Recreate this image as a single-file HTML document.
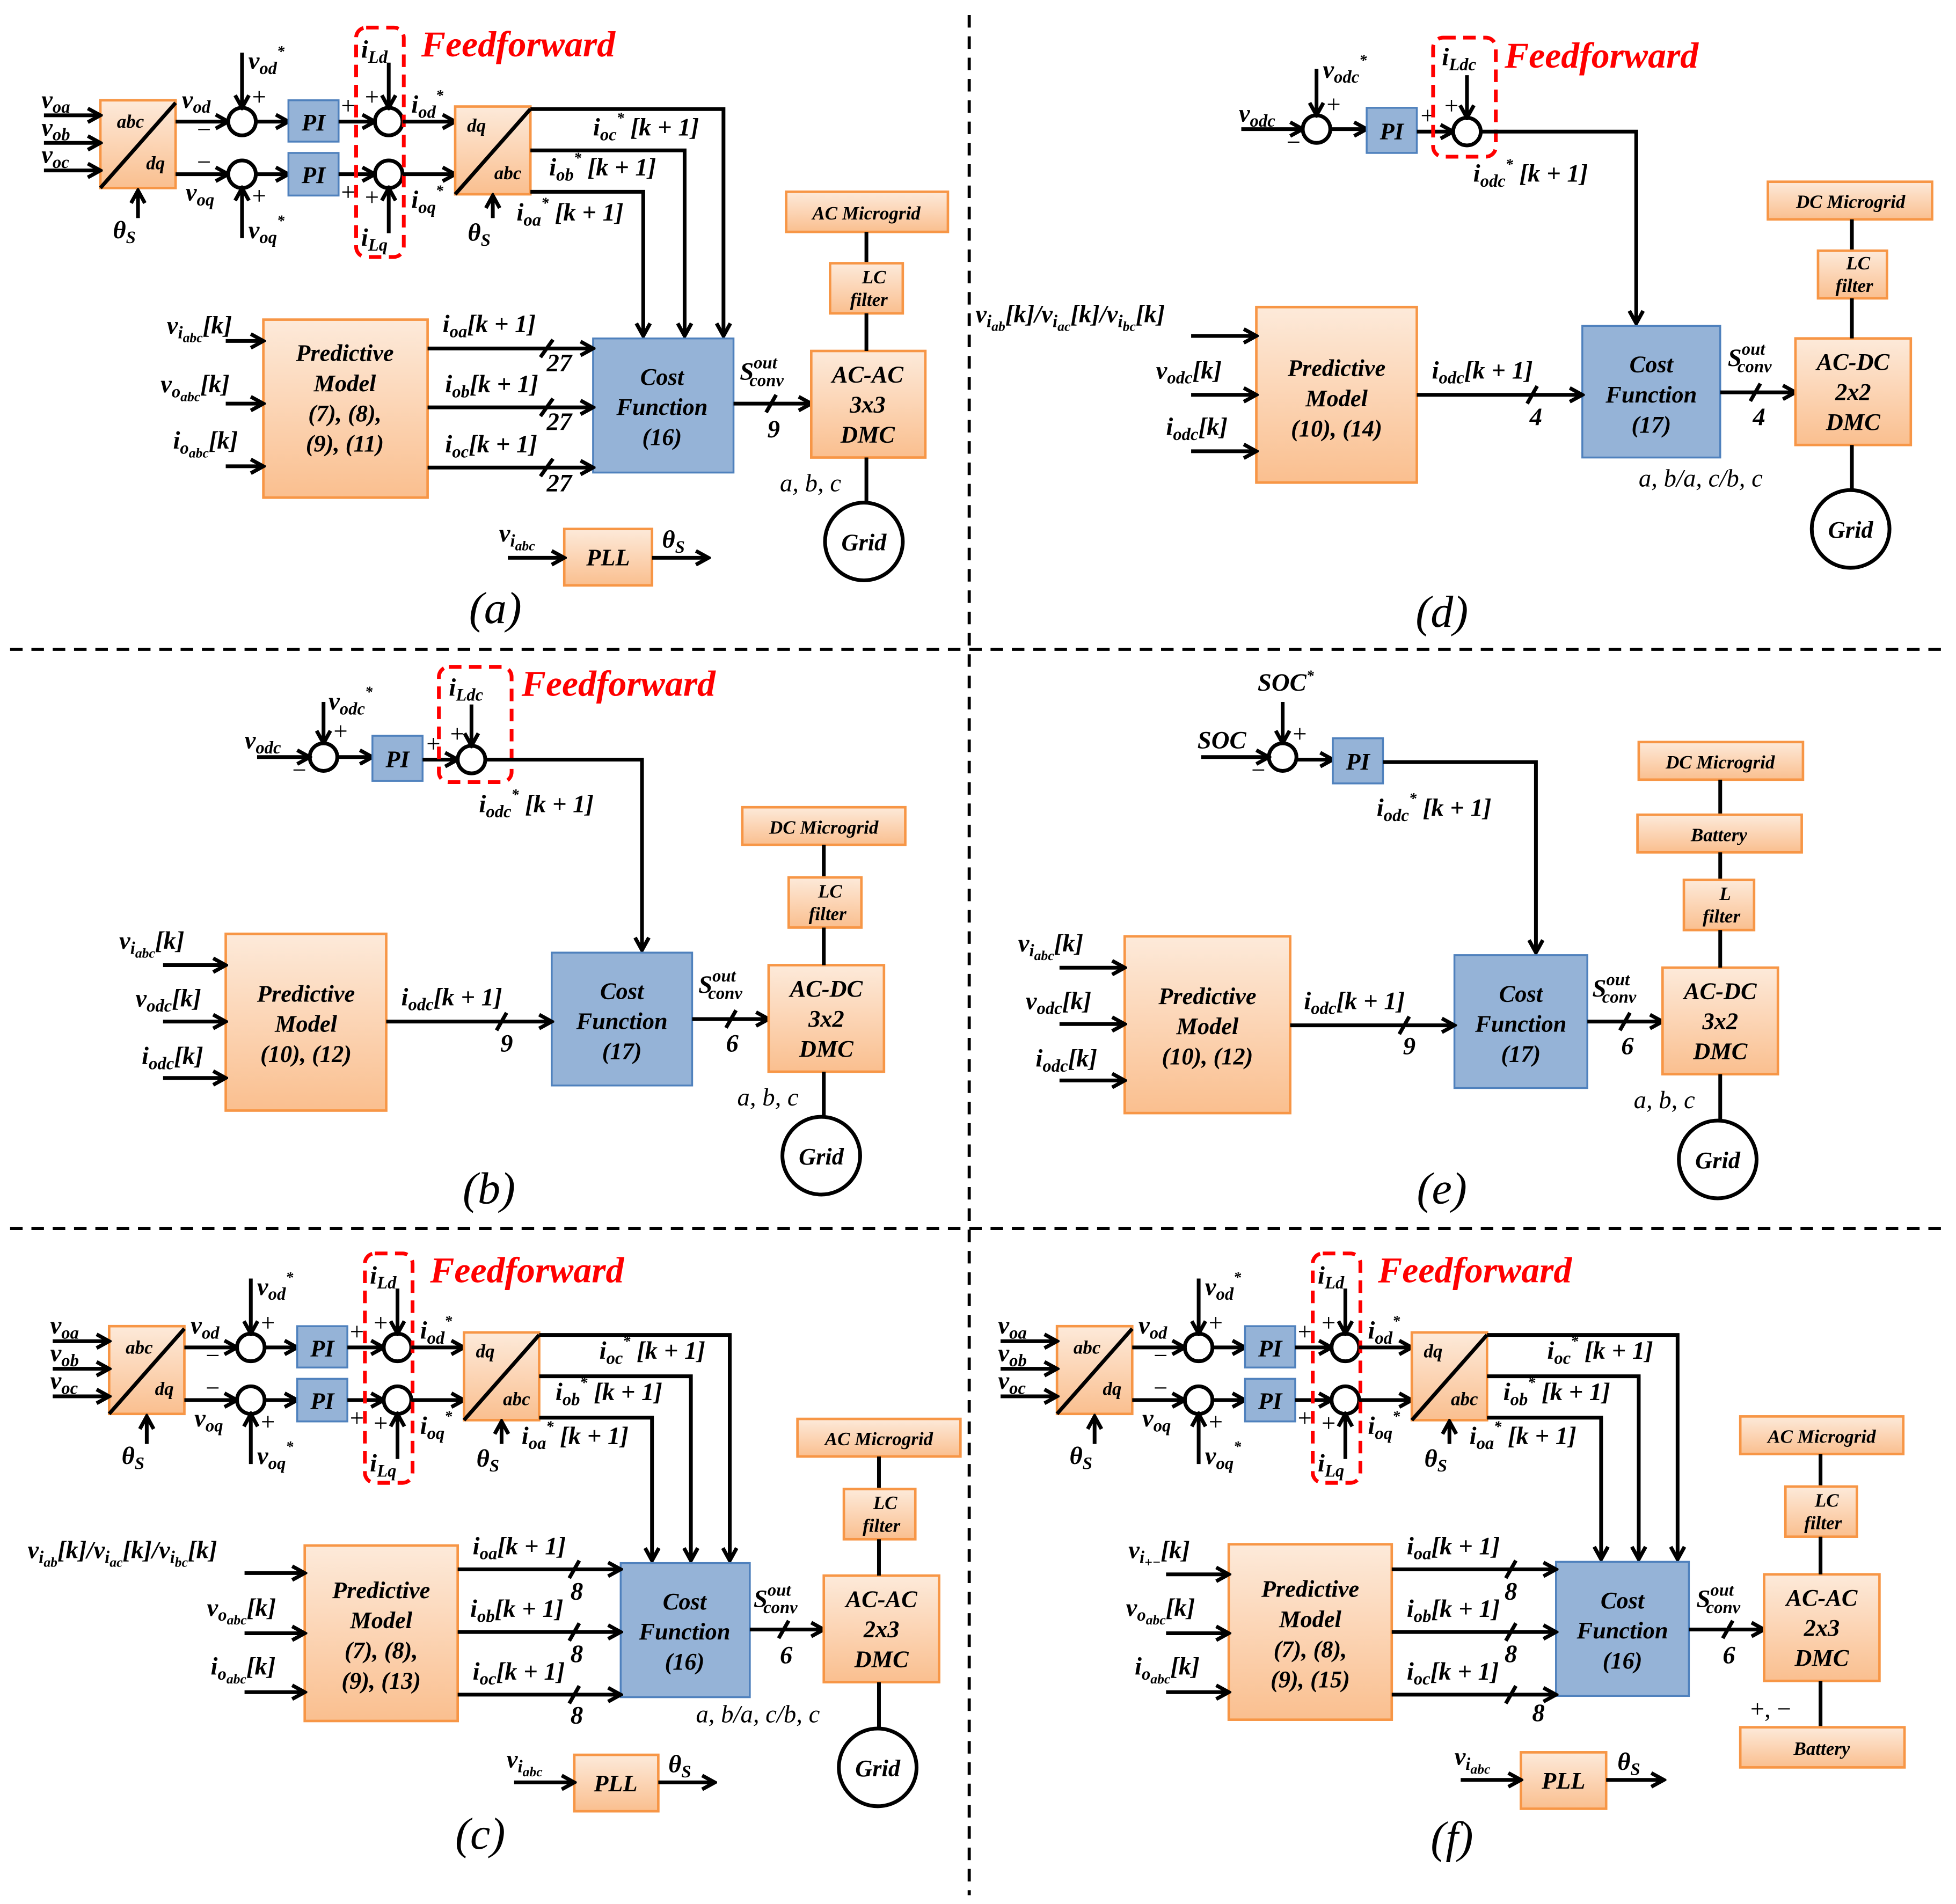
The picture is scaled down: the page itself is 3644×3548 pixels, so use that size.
<!DOCTYPE html>
<html><head><meta charset="utf-8"><style>
html,body{margin:0;padding:0;background:#fff;}
svg{display:block;}
.m{font-family:"Liberation Serif",serif;font-style:italic;font-weight:bold;font-size:20px;fill:#000;}
.bx{font-family:"Liberation Serif",serif;font-style:italic;font-weight:bold;font-size:19px;fill:#000;text-anchor:middle;}
.sm{font-family:"Liberation Serif",serif;font-style:italic;font-weight:bold;font-size:15px;fill:#000;text-anchor:middle;}
.pl{font-family:"Liberation Serif",serif;font-size:20px;fill:#000;}
.cap{font-family:"Liberation Serif",serif;font-style:italic;font-size:36px;fill:#000;text-anchor:middle;}
.ff{font-family:"Liberation Serif",serif;font-style:italic;font-weight:bold;font-size:29px;fill:#f00;}
.ln{stroke:#000;stroke-width:3;fill:none;}
.ar{stroke:#000;stroke-width:3;fill:none;marker-end:url(#ah);}
.o{fill:url(#og);stroke:#f79646;stroke-width:2;}
.b{fill:#95b3d7;stroke:#4f81bd;stroke-width:1.5;}
.c{fill:#fff;stroke:#000;stroke-width:3;}
.d{stroke:#000;stroke-width:2.5;stroke-dasharray:10,7;fill:none;}
.r{stroke:#f00;stroke-width:3;stroke-dasharray:10,6;fill:none;}
</style></head><body>
<svg width="3644" height="3548" viewBox="0 0 1560 1519" xmlns="http://www.w3.org/2000/svg">
<defs>
<linearGradient id="og" x1="0" y1="0" x2="0" y2="1"><stop offset="0" stop-color="#fdeada"/><stop offset="1" stop-color="#fabf8f"/></linearGradient>
<marker id="ah" markerUnits="userSpaceOnUse" markerWidth="14" markerHeight="14" viewBox="0 0 14 14" refX="12" refY="7" orient="auto"><path d="M2,1.5 L12,7 L2,12.5" fill="none" stroke="#000" stroke-width="3"/></marker>
</defs>

<!-- dividers -->
<line class="d" x1="773" y1="12" x2="773" y2="1512"/>
<line class="d" x1="8" y1="518" x2="1552" y2="518"/>
<line class="d" x1="8" y1="980" x2="1552" y2="980"/>

<!-- ===== PANEL A TOP ===== -->
<g id="topA">
<rect class="o" x="80" y="80" width="60" height="70"/>
<line class="ln" x1="80" y1="150" x2="140" y2="82"/>
<text class="sm" x="104" y="102">abc</text><text class="sm" x="124" y="135">dq</text>
<line class="ar" x1="35" y1="92" x2="80" y2="92"/><line class="ar" x1="35" y1="114" x2="80" y2="114"/><line class="ar" x1="35" y1="136" x2="80" y2="136"/>
<text class="m" x="33" y="86">v<tspan font-size="14" dy="4">oa</tspan></text>
<text class="m" x="33" y="108">v<tspan font-size="14" dy="4">ob</tspan></text>
<text class="m" x="33" y="130">v<tspan font-size="14" dy="4">oc</tspan></text>
<line class="ar" x1="110" y1="174" x2="110" y2="152"/>
<text class="m" x="90" y="190">θ<tspan font-size="14" dy="4">S</tspan></text>
<line class="ar" x1="140" y1="97" x2="182" y2="97"/><circle class="c" cx="193" cy="97" r="11"/>
<text class="m" x="145" y="86">v<tspan font-size="14" dy="4">od</tspan></text><text class="pl" x="157" y="110">−</text>
<line class="ar" x1="140" y1="139" x2="182" y2="139"/><circle class="c" cx="193" cy="139" r="11"/>
<text class="m" x="148" y="160">v<tspan font-size="14" dy="4">oq</tspan></text><text class="pl" x="157" y="136">−</text>
<line class="ar" x1="193" y1="42" x2="193" y2="86"/>
<text class="m" x="198" y="55">v<tspan font-size="14" dy="4">od</tspan><tspan font-size="12" dy="-14">*</tspan></text><text class="pl" x="201" y="84">+</text>
<line class="ar" x1="193" y1="190" x2="193" y2="150"/>
<text class="m" x="198" y="190">v<tspan font-size="14" dy="4">oq</tspan><tspan font-size="12" dy="-14">*</tspan></text><text class="pl" x="201" y="163">+</text>
<line class="ar" x1="204" y1="97" x2="230" y2="97"/><rect class="b" x="230" y="80" width="40" height="33"/><text class="bx" x="250" y="104">PI</text>
<line class="ar" x1="204" y1="139" x2="230" y2="139"/><rect class="b" x="230" y="122" width="40" height="34"/><text class="bx" x="250" y="146">PI</text>
<line class="ar" x1="270" y1="97" x2="299" y2="97"/><circle class="c" cx="310" cy="97" r="11"/><text class="pl" x="272" y="91">+</text>
<line class="ar" x1="270" y1="139" x2="299" y2="139"/><circle class="c" cx="310" cy="139" r="11"/><text class="pl" x="272" y="160">+</text>
<line class="ar" x1="310" y1="50" x2="310" y2="86"/>
<text class="m" x="288" y="46">i<tspan font-size="14" dy="4">Ld</tspan></text><text class="pl" x="291" y="84">+</text>
<line class="ar" x1="310" y1="186" x2="310" y2="150"/>
<text class="m" x="288" y="196">i<tspan font-size="14" dy="4">Lq</tspan></text><text class="pl" x="291" y="164">+</text>
<rect class="r" x="284" y="22" width="38" height="183" rx="8"/>
<text class="ff" x="336" y="45">Feedforward</text>
<line class="ar" x1="321" y1="97" x2="363" y2="97"/><line class="ar" x1="321" y1="139" x2="363" y2="139"/>
<text class="m" x="328" y="90">i<tspan font-size="14" dy="4">od</tspan><tspan font-size="12" dy="-14">*</tspan></text>
<text class="m" x="328" y="166">i<tspan font-size="14" dy="4">oq</tspan><tspan font-size="12" dy="-14">*</tspan></text>
<rect class="o" x="363" y="85" width="60" height="70"/>
<line class="ln" x1="363" y1="155" x2="423" y2="87"/>
<text class="sm" x="380" y="105">dq</text><text class="sm" x="405" y="143">abc</text>
<line class="ar" x1="393" y1="174" x2="393" y2="156"/>
<text class="m" x="373" y="192">θ<tspan font-size="14" dy="4">S</tspan></text>
<polyline class="ar" points="423,87 577,87 577,268"/>
<polyline class="ar" points="423,120 546,120 546,268"/>
<polyline class="ar" points="423,153 513,153 513,268"/>
<text class="m" x="473" y="108">i<tspan font-size="14" dy="4">oc</tspan><tspan font-size="12" dy="-14">*</tspan><tspan dy="10"> [k + 1]</tspan></text>
<text class="m" x="438" y="140">i<tspan font-size="14" dy="4">ob</tspan><tspan font-size="12" dy="-14">*</tspan><tspan dy="10"> [k + 1]</tspan></text>
<text class="m" x="412" y="176">i<tspan font-size="14" dy="4">oa</tspan><tspan font-size="12" dy="-14">*</tspan><tspan dy="10"> [k + 1]</tspan></text>
</g>

<!-- PANEL A bottom -->
<rect class="b" x="473" y="270" width="112" height="107"/>
<text class="bx" x="528" y="307">Cost</text><text class="bx" x="528" y="331">Function</text><text class="bx" x="528" y="355" font-style="normal">(16)</text>
<rect class="o" x="210" y="255" width="131" height="142"/>
<text class="bx" x="275" y="288">Predictive</text><text class="bx" x="275" y="312">Model</text><text class="bx" x="275" y="336" font-style="normal">(7), (8),</text><text class="bx" x="275" y="360" font-style="normal">(9), (11)</text>
<line class="ar" x1="180" y1="272" x2="210" y2="272"/><line class="ar" x1="180" y1="322" x2="210" y2="322"/><line class="ar" x1="180" y1="372" x2="210" y2="372"/>
<text class="m" x="133" y="266">v<tspan font-size="14" dy="4">i<tspan font-size="11" dy="3">abc</tspan></tspan><tspan dy="-7">[k]</tspan></text>
<text class="m" x="128" y="313">v<tspan font-size="14" dy="4">o<tspan font-size="11" dy="3">abc</tspan></tspan><tspan dy="-7">[k]</tspan></text>
<text class="m" x="138" y="358">i<tspan font-size="14" dy="4">o<tspan font-size="11" dy="3">abc</tspan></tspan><tspan dy="-7">[k]</tspan></text>
<line class="ar" x1="341" y1="278" x2="473" y2="278"/><line class="ar" x1="341" y1="325" x2="473" y2="325"/><line class="ar" x1="341" y1="373" x2="473" y2="373"/>
<text class="m" x="353" y="265">i<tspan font-size="14" dy="4">oa</tspan><tspan dy="-4">[k + 1]</tspan></text>
<text class="m" x="355" y="313">i<tspan font-size="14" dy="4">ob</tspan><tspan dy="-4">[k + 1]</tspan></text>
<text class="m" x="355" y="361">i<tspan font-size="14" dy="4">oc</tspan><tspan dy="-4">[k + 1]</tspan></text>
<g class="ln" stroke-width="2"><line x1="431" y1="285" x2="441" y2="271"/><line x1="431" y1="332" x2="441" y2="318"/><line x1="431" y1="380" x2="441" y2="366"/></g>
<text class="m" x="436" y="296">27</text><text class="m" x="436" y="343">27</text><text class="m" x="436" y="392">27</text>
<line class="ar" x1="585" y1="322" x2="647" y2="322"/><line class="ln" stroke-width="2" x1="611" y1="329" x2="619" y2="315"/>
<text class="m" x="612" y="349">9</text>
<text class="m" x="590" y="303">S<tspan font-size="14" dy="-9">out</tspan><tspan font-size="14" dx="-22" dy="14">conv</tspan></text>
<rect class="o" x="647" y="280" width="91" height="85"/>
<text class="bx" x="692" y="305">AC-AC</text><text class="bx" x="692" y="329">3x3</text><text class="bx" x="692" y="353">DMC</text>
<rect class="o" x="627" y="153" width="129" height="32"/><text class="sm" x="691" y="175">AC Microgrid</text>
<line class="ln" x1="691" y1="185" x2="691" y2="210"/>
<rect class="o" x="662" y="210" width="58" height="40"/><text class="sm" x="697" y="226" font-size="13">LC</text><text class="sm" x="693" y="244" font-size="13">filter</text>
<line class="ln" x1="691" y1="250" x2="691" y2="280"/>
<line class="ln" x1="691" y1="365" x2="691" y2="402"/>
<circle class="c" cx="689" cy="432" r="31"/><text class="bx" x="689" y="439">Grid</text>
<text class="pl" x="622" y="392" font-style="italic">a, b, c</text>
<rect class="o" x="450" y="422" width="70" height="45"/><text class="bx" x="485" y="451">PLL</text>
<line class="ar" x1="405" y1="445" x2="450" y2="445"/>
<text class="m" x="398" y="432">v<tspan font-size="14" dy="4">i<tspan font-size="11" dy="3">abc</tspan></tspan></text>
<line class="ar" x1="520" y1="445" x2="565" y2="445"/>
<text class="m" x="528" y="437">θ<tspan font-size="14" dy="4">S</tspan></text>
<text class="cap" x="395" y="497">(a)</text>

<!-- ===== PANEL D ===== -->
<text class="m" x="988" y="97">v<tspan font-size="14" dy="4">odc</tspan></text>
<line class="ar" x1="990" y1="103" x2="1039" y2="103"/><circle class="c" cx="1050" cy="103" r="11"/><text class="pl" x="1026" y="120">−</text>
<line class="ar" x1="1050" y1="55" x2="1050" y2="92"/>
<text class="m" x="1055" y="62">v<tspan font-size="14" dy="4">odc</tspan><tspan font-size="12" dy="-14">*</tspan></text><text class="pl" x="1058" y="90">+</text>
<line class="ar" x1="1061" y1="103" x2="1090" y2="103"/><rect class="b" x="1090" y="86" width="40" height="36"/><text class="bx" x="1110" y="111">PI</text>
<line class="ar" x1="1130" y1="105" x2="1159" y2="105"/><circle class="c" cx="1170" cy="105" r="11"/><text class="pl" x="1133" y="99">+</text>
<line class="ar" x1="1170" y1="60" x2="1170" y2="94"/>
<text class="m" x="1150" y="52">i<tspan font-size="14" dy="4">Ldc</tspan></text><text class="pl" x="1152" y="91">+</text>
<rect class="r" x="1143" y="30" width="50" height="95" rx="8"/>
<text class="ff" x="1200" y="54">Feedforward</text>
<polyline class="ar" points="1181,105 1305,105 1305,258"/>
<text class="m" x="1175" y="145">i<tspan font-size="14" dy="4">odc</tspan><tspan font-size="12" dy="-14">*</tspan><tspan dy="10"> [k + 1]</tspan></text>
<rect class="b" x="1262" y="260" width="110" height="105"/>
<text class="bx" x="1317" y="297">Cost</text><text class="bx" x="1317" y="321">Function</text><text class="bx" x="1317" y="345" font-style="normal">(17)</text>
<rect class="o" x="1002" y="245" width="128" height="140"/>
<text class="bx" x="1066" y="300">Predictive</text><text class="bx" x="1066" y="324">Model</text><text class="bx" x="1066" y="348" font-style="normal">(10), (14)</text>
<text class="m" x="778" y="257">v<tspan font-size="14" dy="4">i<tspan font-size="11" dy="3">ab</tspan></tspan><tspan dy="-7">[k]/v</tspan><tspan font-size="14" dy="4">i<tspan font-size="11" dy="3">ac</tspan></tspan><tspan dy="-7">[k]/v</tspan><tspan font-size="14" dy="4">i<tspan font-size="11" dy="3">bc</tspan></tspan><tspan dy="-7">[k]</tspan></text>
<line class="ar" x1="950" y1="268" x2="1002" y2="268"/><line class="ar" x1="950" y1="315" x2="1002" y2="315"/><line class="ar" x1="950" y1="360" x2="1002" y2="360"/>
<text class="m" x="922" y="302">v<tspan font-size="14" dy="4">odc</tspan><tspan dy="-4">[k]</tspan></text>
<text class="m" x="930" y="347">i<tspan font-size="14" dy="4">odc</tspan><tspan dy="-4">[k]</tspan></text>
<line class="ar" x1="1130" y1="315" x2="1262" y2="315"/><line class="ln" stroke-width="2" x1="1218" y1="322" x2="1226" y2="308"/>
<text class="m" x="1220" y="339">4</text>
<text class="m" x="1142" y="302">i<tspan font-size="14" dy="4">odc</tspan><tspan dy="-4">[k + 1]</tspan></text>
<line class="ar" x1="1372" y1="313" x2="1432" y2="313"/><line class="ln" stroke-width="2" x1="1396" y1="320" x2="1404" y2="306"/>
<text class="m" x="1398" y="339">4</text>
<text class="m" x="1378" y="292">S<tspan font-size="14" dy="-9">out</tspan><tspan font-size="14" dx="-22" dy="14">conv</tspan></text>
<rect class="o" x="1432" y="270" width="92" height="85"/>
<text class="bx" x="1478" y="295">AC-DC</text><text class="bx" x="1478" y="319">2x2</text><text class="bx" x="1478" y="343">DMC</text>
<rect class="o" x="1410" y="145" width="131" height="30"/><text class="sm" x="1476" y="166">DC Microgrid</text>
<line class="ln" x1="1477" y1="175" x2="1477" y2="200"/>
<rect class="o" x="1450" y="200" width="55" height="38"/><text class="sm" x="1482" y="215" font-size="13">LC</text><text class="sm" x="1479" y="233" font-size="13">filter</text>
<line class="ln" x1="1477" y1="238" x2="1477" y2="270"/>
<line class="ln" x1="1477" y1="355" x2="1477" y2="393"/>
<circle class="c" cx="1476" cy="422" r="31"/><text class="bx" x="1476" y="429">Grid</text>
<text class="pl" x="1307" y="388" font-style="italic">a, b/a, c/b, c</text>
<text class="cap" x="1150" y="500">(d)</text>

<!-- ===== PANEL B ===== -->
<line class="ar" x1="258" y1="560" x2="258" y2="593"/>
<text class="m" x="262" y="566">v<tspan font-size="14" dy="4">odc</tspan><tspan font-size="12" dy="-14">*</tspan></text><text class="pl" x="266" y="590">+</text>
<circle class="c" cx="258" cy="604" r="11"/>
<text class="m" x="195" y="597">v<tspan font-size="14" dy="4">odc</tspan></text>
<line class="ar" x1="205" y1="604" x2="247" y2="604"/><text class="pl" x="233" y="621">−</text>
<line class="ar" x1="269" y1="604" x2="297" y2="604"/><rect class="b" x="297" y="587" width="40" height="36"/><text class="bx" x="317" y="612">PI</text>
<line class="ar" x1="337" y1="606" x2="365" y2="606"/><circle class="c" cx="376" cy="606" r="11"/><text class="pl" x="340" y="600">+</text>
<line class="ar" x1="376" y1="562" x2="376" y2="595"/>
<text class="m" x="358" y="555">i<tspan font-size="14" dy="4">Ldc</tspan></text><text class="pl" x="359" y="592">+</text>
<rect class="r" x="350" y="532" width="58" height="92" rx="8"/>
<text class="ff" x="416" y="555">Feedforward</text>
<polyline class="ar" points="387,606 512,606 512,758"/>
<text class="m" x="382" y="648">i<tspan font-size="14" dy="4">odc</tspan><tspan font-size="12" dy="-14">*</tspan><tspan dy="10"> [k + 1]</tspan></text>
<rect class="b" x="440" y="760" width="112" height="106"/>
<text class="bx" x="496" y="797">Cost</text><text class="bx" x="496" y="821">Function</text><text class="bx" x="496" y="845" font-style="normal">(17)</text>
<rect class="o" x="180" y="745" width="128" height="141"/>
<text class="bx" x="244" y="799">Predictive</text><text class="bx" x="244" y="823">Model</text><text class="bx" x="244" y="847" font-style="normal">(10), (12)</text>
<line class="ar" x1="130" y1="770" x2="180" y2="770"/><line class="ar" x1="130" y1="815" x2="180" y2="815"/><line class="ar" x1="130" y1="860" x2="180" y2="860"/>
<text class="m" x="95" y="757">v<tspan font-size="14" dy="4">i<tspan font-size="11" dy="3">abc</tspan></tspan><tspan dy="-7">[k]</tspan></text>
<text class="m" x="108" y="803">v<tspan font-size="14" dy="4">odc</tspan><tspan dy="-4">[k]</tspan></text>
<text class="m" x="113" y="849">i<tspan font-size="14" dy="4">odc</tspan><tspan dy="-4">[k]</tspan></text>
<line class="ar" x1="308" y1="815" x2="440" y2="815"/><line class="ln" stroke-width="2" x1="396" y1="822" x2="404" y2="808"/>
<text class="m" x="399" y="839">9</text>
<text class="m" x="320" y="802">i<tspan font-size="14" dy="4">odc</tspan><tspan dy="-4">[k + 1]</tspan></text>
<line class="ar" x1="552" y1="813" x2="613" y2="813"/><line class="ln" stroke-width="2" x1="579" y1="820" x2="587" y2="806"/>
<text class="m" x="579" y="839">6</text>
<text class="m" x="557" y="792">S<tspan font-size="14" dy="-9">out</tspan><tspan font-size="14" dx="-22" dy="14">conv</tspan></text>
<rect class="o" x="613" y="770" width="92" height="85"/>
<text class="bx" x="659" y="795">AC-DC</text><text class="bx" x="659" y="819">3x2</text><text class="bx" x="659" y="843">DMC</text>
<rect class="o" x="592" y="644" width="130" height="30"/><text class="sm" x="657" y="665">DC Microgrid</text>
<line class="ln" x1="657" y1="674" x2="657" y2="700"/>
<rect class="o" x="629" y="700" width="58" height="40"/><text class="sm" x="662" y="716" font-size="13">LC</text><text class="sm" x="660" y="734" font-size="13">filter</text>
<line class="ln" x1="657" y1="740" x2="657" y2="770"/>
<line class="ln" x1="657" y1="855" x2="657" y2="892"/>
<circle class="c" cx="655" cy="922" r="31"/><text class="bx" x="655" y="929">Grid</text>
<text class="pl" x="588" y="882" font-style="italic">a, b, c</text>
<text class="cap" x="390" y="960">(b)</text>

<!-- ===== PANEL E ===== -->
<text class="m" x="1003" y="551">SOC<tspan font-size="12" dy="-8">*</tspan></text>
<line class="ar" x1="1023" y1="560" x2="1023" y2="593"/><text class="pl" x="1031" y="592">+</text>
<circle class="c" cx="1023" cy="604" r="11"/>
<text class="m" x="955" y="597">SOC</text>
<line class="ar" x1="958" y1="604" x2="1012" y2="604"/><text class="pl" x="998" y="621">−</text>
<line class="ar" x1="1034" y1="606" x2="1063" y2="606"/><rect class="b" x="1063" y="589" width="40" height="36"/><text class="bx" x="1083" y="614">PI</text>
<polyline class="ar" points="1103,608 1225,608 1225,760"/>
<text class="m" x="1098" y="651">i<tspan font-size="14" dy="4">odc</tspan><tspan font-size="12" dy="-14">*</tspan><tspan dy="10"> [k + 1]</tspan></text>
<rect class="b" x="1160" y="762" width="106" height="106"/>
<text class="bx" x="1213" y="799">Cost</text><text class="bx" x="1213" y="823">Function</text><text class="bx" x="1213" y="847" font-style="normal">(17)</text>
<rect class="o" x="897" y="747" width="132" height="141"/>
<text class="bx" x="963" y="801">Predictive</text><text class="bx" x="963" y="825">Model</text><text class="bx" x="963" y="849" font-style="normal">(10), (12)</text>
<line class="ar" x1="845" y1="772" x2="897" y2="772"/><line class="ar" x1="845" y1="817" x2="897" y2="817"/><line class="ar" x1="845" y1="862" x2="897" y2="862"/>
<text class="m" x="812" y="759">v<tspan font-size="14" dy="4">i<tspan font-size="11" dy="3">abc</tspan></tspan><tspan dy="-7">[k]</tspan></text>
<text class="m" x="818" y="805">v<tspan font-size="14" dy="4">odc</tspan><tspan dy="-4">[k]</tspan></text>
<text class="m" x="826" y="851">i<tspan font-size="14" dy="4">odc</tspan><tspan dy="-4">[k]</tspan></text>
<line class="ar" x1="1029" y1="818" x2="1160" y2="818"/><line class="ln" stroke-width="2" x1="1116" y1="825" x2="1124" y2="811"/>
<text class="m" x="1119" y="841">9</text>
<text class="m" x="1040" y="805">i<tspan font-size="14" dy="4">odc</tspan><tspan dy="-4">[k + 1]</tspan></text>
<line class="ar" x1="1266" y1="815" x2="1326" y2="815"/><line class="ln" stroke-width="2" x1="1292" y1="822" x2="1300" y2="808"/>
<text class="m" x="1293" y="841">6</text>
<text class="m" x="1270" y="795">S<tspan font-size="14" dy="-9">out</tspan><tspan font-size="14" dx="-22" dy="14">conv</tspan></text>
<rect class="o" x="1326" y="772" width="92" height="85"/>
<text class="bx" x="1372" y="797">AC-DC</text><text class="bx" x="1372" y="821">3x2</text><text class="bx" x="1372" y="845">DMC</text>
<rect class="o" x="1307" y="592" width="131" height="30"/><text class="sm" x="1372" y="613">DC Microgrid</text>
<line class="ln" x1="1372" y1="622" x2="1372" y2="650"/>
<rect class="o" x="1306" y="650" width="131" height="30"/><text class="sm" x="1371" y="671">Battery</text>
<line class="ln" x1="1372" y1="680" x2="1372" y2="702"/>
<rect class="o" x="1343" y="702" width="56" height="40"/><text class="sm" x="1376" y="718" font-size="13">L</text><text class="sm" x="1373" y="736" font-size="13">filter</text>
<line class="ln" x1="1372" y1="742" x2="1372" y2="772"/>
<line class="ln" x1="1372" y1="857" x2="1372" y2="893"/>
<circle class="c" cx="1370" cy="925" r="31"/><text class="bx" x="1370" y="932">Grid</text>
<text class="pl" x="1303" y="884" font-style="italic">a, b, c</text>
<text class="cap" x="1150" y="960">(e)</text>

<!-- ===== PANEL C ===== -->
<g transform="translate(7,978)">
<rect class="o" x="80" y="80" width="60" height="70"/>
<line class="ln" x1="80" y1="150" x2="140" y2="82"/>
<text class="sm" x="104" y="102">abc</text><text class="sm" x="124" y="135">dq</text>
<line class="ar" x1="35" y1="92" x2="80" y2="92"/><line class="ar" x1="35" y1="114" x2="80" y2="114"/><line class="ar" x1="35" y1="136" x2="80" y2="136"/>
<text class="m" x="33" y="86">v<tspan font-size="14" dy="4">oa</tspan></text>
<text class="m" x="33" y="108">v<tspan font-size="14" dy="4">ob</tspan></text>
<text class="m" x="33" y="130">v<tspan font-size="14" dy="4">oc</tspan></text>
<line class="ar" x1="110" y1="174" x2="110" y2="152"/>
<text class="m" x="90" y="190">θ<tspan font-size="14" dy="4">S</tspan></text>
<line class="ar" x1="140" y1="97" x2="182" y2="97"/><circle class="c" cx="193" cy="97" r="11"/>
<text class="m" x="145" y="86">v<tspan font-size="14" dy="4">od</tspan></text><text class="pl" x="157" y="110">−</text>
<line class="ar" x1="140" y1="139" x2="182" y2="139"/><circle class="c" cx="193" cy="139" r="11"/>
<text class="m" x="148" y="160">v<tspan font-size="14" dy="4">oq</tspan></text><text class="pl" x="157" y="136">−</text>
<line class="ar" x1="193" y1="42" x2="193" y2="86"/>
<text class="m" x="198" y="55">v<tspan font-size="14" dy="4">od</tspan><tspan font-size="12" dy="-14">*</tspan></text><text class="pl" x="201" y="84">+</text>
<line class="ar" x1="193" y1="190" x2="193" y2="150"/>
<text class="m" x="198" y="190">v<tspan font-size="14" dy="4">oq</tspan><tspan font-size="12" dy="-14">*</tspan></text><text class="pl" x="201" y="163">+</text>
<line class="ar" x1="204" y1="97" x2="230" y2="97"/><rect class="b" x="230" y="80" width="40" height="33"/><text class="bx" x="250" y="104">PI</text>
<line class="ar" x1="204" y1="139" x2="230" y2="139"/><rect class="b" x="230" y="122" width="40" height="34"/><text class="bx" x="250" y="146">PI</text>
<line class="ar" x1="270" y1="97" x2="299" y2="97"/><circle class="c" cx="310" cy="97" r="11"/><text class="pl" x="272" y="91">+</text>
<line class="ar" x1="270" y1="139" x2="299" y2="139"/><circle class="c" cx="310" cy="139" r="11"/><text class="pl" x="272" y="160">+</text>
<line class="ar" x1="310" y1="50" x2="310" y2="86"/>
<text class="m" x="288" y="46">i<tspan font-size="14" dy="4">Ld</tspan></text><text class="pl" x="291" y="84">+</text>
<line class="ar" x1="310" y1="186" x2="310" y2="150"/>
<text class="m" x="288" y="196">i<tspan font-size="14" dy="4">Lq</tspan></text><text class="pl" x="291" y="164">+</text>
<rect class="r" x="284" y="22" width="38" height="183" rx="8"/>
<text class="ff" x="336" y="45">Feedforward</text>
<line class="ar" x1="321" y1="97" x2="363" y2="97"/><line class="ar" x1="321" y1="139" x2="363" y2="139"/>
<text class="m" x="328" y="90">i<tspan font-size="14" dy="4">od</tspan><tspan font-size="12" dy="-14">*</tspan></text>
<text class="m" x="328" y="166">i<tspan font-size="14" dy="4">oq</tspan><tspan font-size="12" dy="-14">*</tspan></text>
<rect class="o" x="363" y="85" width="60" height="70"/>
<line class="ln" x1="363" y1="155" x2="423" y2="87"/>
<text class="sm" x="380" y="105">dq</text><text class="sm" x="405" y="143">abc</text>
<line class="ar" x1="393" y1="174" x2="393" y2="156"/>
<text class="m" x="373" y="192">θ<tspan font-size="14" dy="4">S</tspan></text>
<polyline class="ar" points="423,87 575,87 575,267"/>
<polyline class="ar" points="423,120 544,120 544,267"/>
<polyline class="ar" points="423,153 513,153 513,267"/>
<text class="m" x="471" y="106">i<tspan font-size="14" dy="4">oc</tspan><tspan font-size="12" dy="-14">*</tspan><tspan dy="10"> [k + 1]</tspan></text>
<text class="m" x="436" y="139">i<tspan font-size="14" dy="4">ob</tspan><tspan font-size="12" dy="-14">*</tspan><tspan dy="10"> [k + 1]</tspan></text>
<text class="m" x="409" y="174">i<tspan font-size="14" dy="4">oa</tspan><tspan font-size="12" dy="-14">*</tspan><tspan dy="10"> [k + 1]</tspan></text>
</g>
<rect class="b" x="495" y="1247" width="103" height="107"/>
<text class="bx" x="546" y="1284">Cost</text><text class="bx" x="546" y="1308">Function</text><text class="bx" x="546" y="1332" font-style="normal">(16)</text>
<rect class="o" x="243" y="1233" width="122" height="140"/>
<text class="bx" x="304" y="1275">Predictive</text><text class="bx" x="304" y="1299">Model</text><text class="bx" x="304" y="1323" font-style="normal">(7), (8),</text><text class="bx" x="304" y="1347" font-style="normal">(9), (13)</text>
<line class="ar" x1="195" y1="1255" x2="243" y2="1255"/><line class="ar" x1="195" y1="1303" x2="243" y2="1303"/><line class="ar" x1="195" y1="1350" x2="243" y2="1350"/>
<text class="m" x="22" y="1243">v<tspan font-size="14" dy="4">i<tspan font-size="11" dy="3">ab</tspan></tspan><tspan dy="-7">[k]/v</tspan><tspan font-size="14" dy="4">i<tspan font-size="11" dy="3">ac</tspan></tspan><tspan dy="-7">[k]/v</tspan><tspan font-size="14" dy="4">i<tspan font-size="11" dy="3">bc</tspan></tspan><tspan dy="-7">[k]</tspan></text>
<text class="m" x="165" y="1289">v<tspan font-size="14" dy="4">o<tspan font-size="11" dy="3">abc</tspan></tspan><tspan dy="-7">[k]</tspan></text>
<text class="m" x="168" y="1336">i<tspan font-size="14" dy="4">o<tspan font-size="11" dy="3">abc</tspan></tspan><tspan dy="-7">[k]</tspan></text>
<line class="ar" x1="365" y1="1252" x2="495" y2="1252"/><line class="ar" x1="365" y1="1302" x2="495" y2="1302"/><line class="ar" x1="365" y1="1352" x2="495" y2="1352"/>
<text class="m" x="377" y="1240">i<tspan font-size="14" dy="4">oa</tspan><tspan dy="-4">[k + 1]</tspan></text>
<text class="m" x="375" y="1290">i<tspan font-size="14" dy="4">ob</tspan><tspan dy="-4">[k + 1]</tspan></text>
<text class="m" x="377" y="1340">i<tspan font-size="14" dy="4">oc</tspan><tspan dy="-4">[k + 1]</tspan></text>
<g class="ln" stroke-width="2"><line x1="454" y1="1259" x2="462" y2="1245"/><line x1="454" y1="1309" x2="462" y2="1295"/><line x1="454" y1="1359" x2="462" y2="1345"/></g>
<text class="m" x="455" y="1276">8</text><text class="m" x="455" y="1326">8</text><text class="m" x="455" y="1375">8</text>
<line class="ar" x1="598" y1="1300" x2="657" y2="1300"/><line class="ln" stroke-width="2" x1="621" y1="1307" x2="629" y2="1293"/>
<text class="m" x="622" y="1327">6</text>
<text class="m" x="601" y="1282">S<tspan font-size="14" dy="-9">out</tspan><tspan font-size="14" dx="-22" dy="14">conv</tspan></text>
<rect class="o" x="657" y="1257" width="92" height="85"/>
<text class="bx" x="703" y="1282">AC-AC</text><text class="bx" x="703" y="1306">2x3</text><text class="bx" x="703" y="1330">DMC</text>
<rect class="o" x="636" y="1132" width="130" height="30"/><text class="sm" x="701" y="1153">AC Microgrid</text>
<line class="ln" x1="701" y1="1162" x2="701" y2="1188"/>
<rect class="o" x="673" y="1188" width="57" height="40"/><text class="sm" x="706" y="1204" font-size="13">LC</text><text class="sm" x="703" y="1222" font-size="13">filter</text>
<line class="ln" x1="701" y1="1228" x2="701" y2="1257"/>
<line class="ln" x1="701" y1="1342" x2="701" y2="1380"/>
<circle class="c" cx="700" cy="1410" r="31"/><text class="bx" x="700" y="1417">Grid</text>
<text class="pl" x="555" y="1374" font-style="italic">a, b/a, c/b, c</text>
<rect class="o" x="458" y="1400" width="67" height="45"/><text class="bx" x="491" y="1429">PLL</text>
<line class="ar" x1="410" y1="1422" x2="458" y2="1422"/>
<text class="m" x="404" y="1410">v<tspan font-size="14" dy="4">i<tspan font-size="11" dy="3">abc</tspan></tspan></text>
<line class="ar" x1="525" y1="1422" x2="570" y2="1422"/>
<text class="m" x="533" y="1414">θ<tspan font-size="14" dy="4">S</tspan></text>
<text class="cap" x="383" y="1475">(c)</text>

<!-- ===== PANEL F ===== -->
<g transform="translate(763,978)">
<rect class="o" x="80" y="80" width="60" height="70"/>
<line class="ln" x1="80" y1="150" x2="140" y2="82"/>
<text class="sm" x="104" y="102">abc</text><text class="sm" x="124" y="135">dq</text>
<line class="ar" x1="35" y1="92" x2="80" y2="92"/><line class="ar" x1="35" y1="114" x2="80" y2="114"/><line class="ar" x1="35" y1="136" x2="80" y2="136"/>
<text class="m" x="33" y="86">v<tspan font-size="14" dy="4">oa</tspan></text>
<text class="m" x="33" y="108">v<tspan font-size="14" dy="4">ob</tspan></text>
<text class="m" x="33" y="130">v<tspan font-size="14" dy="4">oc</tspan></text>
<line class="ar" x1="110" y1="174" x2="110" y2="152"/>
<text class="m" x="90" y="190">θ<tspan font-size="14" dy="4">S</tspan></text>
<line class="ar" x1="140" y1="97" x2="182" y2="97"/><circle class="c" cx="193" cy="97" r="11"/>
<text class="m" x="145" y="86">v<tspan font-size="14" dy="4">od</tspan></text><text class="pl" x="157" y="110">−</text>
<line class="ar" x1="140" y1="139" x2="182" y2="139"/><circle class="c" cx="193" cy="139" r="11"/>
<text class="m" x="148" y="160">v<tspan font-size="14" dy="4">oq</tspan></text><text class="pl" x="157" y="136">−</text>
<line class="ar" x1="193" y1="42" x2="193" y2="86"/>
<text class="m" x="198" y="55">v<tspan font-size="14" dy="4">od</tspan><tspan font-size="12" dy="-14">*</tspan></text><text class="pl" x="201" y="84">+</text>
<line class="ar" x1="193" y1="190" x2="193" y2="150"/>
<text class="m" x="198" y="190">v<tspan font-size="14" dy="4">oq</tspan><tspan font-size="12" dy="-14">*</tspan></text><text class="pl" x="201" y="163">+</text>
<line class="ar" x1="204" y1="97" x2="230" y2="97"/><rect class="b" x="230" y="80" width="40" height="33"/><text class="bx" x="250" y="104">PI</text>
<line class="ar" x1="204" y1="139" x2="230" y2="139"/><rect class="b" x="230" y="122" width="40" height="34"/><text class="bx" x="250" y="146">PI</text>
<line class="ar" x1="270" y1="97" x2="299" y2="97"/><circle class="c" cx="310" cy="97" r="11"/><text class="pl" x="272" y="91">+</text>
<line class="ar" x1="270" y1="139" x2="299" y2="139"/><circle class="c" cx="310" cy="139" r="11"/><text class="pl" x="272" y="160">+</text>
<line class="ar" x1="310" y1="50" x2="310" y2="86"/>
<text class="m" x="288" y="46">i<tspan font-size="14" dy="4">Ld</tspan></text><text class="pl" x="291" y="84">+</text>
<line class="ar" x1="310" y1="186" x2="310" y2="150"/>
<text class="m" x="288" y="196">i<tspan font-size="14" dy="4">Lq</tspan></text><text class="pl" x="291" y="164">+</text>
<rect class="r" x="284" y="22" width="38" height="183" rx="8"/>
<text class="ff" x="336" y="45">Feedforward</text>
<line class="ar" x1="321" y1="97" x2="363" y2="97"/><line class="ar" x1="321" y1="139" x2="363" y2="139"/>
<text class="m" x="328" y="90">i<tspan font-size="14" dy="4">od</tspan><tspan font-size="12" dy="-14">*</tspan></text>
<text class="m" x="328" y="166">i<tspan font-size="14" dy="4">oq</tspan><tspan font-size="12" dy="-14">*</tspan></text>
<rect class="o" x="363" y="85" width="60" height="70"/>
<line class="ln" x1="363" y1="155" x2="423" y2="87"/>
<text class="sm" x="380" y="105">dq</text><text class="sm" x="405" y="143">abc</text>
<line class="ar" x1="393" y1="174" x2="393" y2="156"/>
<text class="m" x="373" y="192">θ<tspan font-size="14" dy="4">S</tspan></text>
<polyline class="ar" points="423,87 575,87 575,266"/>
<polyline class="ar" points="423,120 544,120 544,266"/>
<polyline class="ar" points="423,153 514,153 514,266"/>
<text class="m" x="471" y="106">i<tspan font-size="14" dy="4">oc</tspan><tspan font-size="12" dy="-14">*</tspan><tspan dy="10"> [k + 1]</tspan></text>
<text class="m" x="436" y="139">i<tspan font-size="14" dy="4">ob</tspan><tspan font-size="12" dy="-14">*</tspan><tspan dy="10"> [k + 1]</tspan></text>
<text class="m" x="409" y="174">i<tspan font-size="14" dy="4">oa</tspan><tspan font-size="12" dy="-14">*</tspan><tspan dy="10"> [k + 1]</tspan></text>
</g>
<rect class="b" x="1241" y="1246" width="106" height="107"/>
<text class="bx" x="1294" y="1283">Cost</text><text class="bx" x="1294" y="1307">Function</text><text class="bx" x="1294" y="1331" font-style="normal">(16)</text>
<rect class="o" x="980" y="1232" width="130" height="140"/>
<text class="bx" x="1045" y="1274">Predictive</text><text class="bx" x="1045" y="1298">Model</text><text class="bx" x="1045" y="1322" font-style="normal">(7), (8),</text><text class="bx" x="1045" y="1346" font-style="normal">(9), (15)</text>
<line class="ar" x1="930" y1="1256" x2="980" y2="1256"/><line class="ar" x1="930" y1="1303" x2="980" y2="1303"/><line class="ar" x1="930" y1="1350" x2="980" y2="1350"/>
<text class="m" x="900" y="1243">v<tspan font-size="14" dy="4">i<tspan font-size="11" dy="3">+−</tspan></tspan><tspan dy="-7">[k]</tspan></text>
<text class="m" x="898" y="1289">v<tspan font-size="14" dy="4">o<tspan font-size="11" dy="3">abc</tspan></tspan><tspan dy="-7">[k]</tspan></text>
<text class="m" x="905" y="1336">i<tspan font-size="14" dy="4">o<tspan font-size="11" dy="3">abc</tspan></tspan><tspan dy="-7">[k]</tspan></text>
<line class="ar" x1="1110" y1="1252" x2="1241" y2="1252"/><line class="ar" x1="1110" y1="1302" x2="1241" y2="1302"/><line class="ar" x1="1110" y1="1352" x2="1241" y2="1352"/>
<text class="m" x="1122" y="1240">i<tspan font-size="14" dy="4">oa</tspan><tspan dy="-4">[k + 1]</tspan></text>
<text class="m" x="1122" y="1290">i<tspan font-size="14" dy="4">ob</tspan><tspan dy="-4">[k + 1]</tspan></text>
<text class="m" x="1122" y="1340">i<tspan font-size="14" dy="4">oc</tspan><tspan dy="-4">[k + 1]</tspan></text>
<g class="ln" stroke-width="2"><line x1="1201" y1="1259" x2="1209" y2="1245"/><line x1="1201" y1="1309" x2="1209" y2="1295"/><line x1="1201" y1="1359" x2="1209" y2="1345"/></g>
<text class="m" x="1200" y="1276">8</text><text class="m" x="1200" y="1326">8</text><text class="m" x="1222" y="1373">8</text>
<line class="ar" x1="1347" y1="1300" x2="1407" y2="1300"/><line class="ln" stroke-width="2" x1="1374" y1="1307" x2="1382" y2="1293"/>
<text class="m" x="1374" y="1327">6</text>
<text class="m" x="1353" y="1282">S<tspan font-size="14" dy="-9">out</tspan><tspan font-size="14" dx="-22" dy="14">conv</tspan></text>
<rect class="o" x="1407" y="1256" width="92" height="85"/>
<text class="bx" x="1453" y="1281">AC-AC</text><text class="bx" x="1453" y="1305">2x3</text><text class="bx" x="1453" y="1329">DMC</text>
<rect class="o" x="1388" y="1130" width="130" height="30"/><text class="sm" x="1453" y="1151">AC Microgrid</text>
<line class="ln" x1="1452" y1="1160" x2="1452" y2="1186"/>
<rect class="o" x="1424" y="1186" width="57" height="40"/><text class="sm" x="1457" y="1202" font-size="13">LC</text><text class="sm" x="1454" y="1220" font-size="13">filter</text>
<line class="ln" x1="1452" y1="1226" x2="1452" y2="1256"/>
<line class="ln" x1="1452" y1="1341" x2="1452" y2="1378"/>
<rect class="o" x="1388" y="1378" width="131" height="32"/><text class="sm" x="1453" y="1400">Battery</text>
<text class="pl" x="1396" y="1370">+, −</text>
<rect class="o" x="1213" y="1398" width="68" height="45"/><text class="bx" x="1247" y="1427">PLL</text>
<line class="ar" x1="1165" y1="1420" x2="1213" y2="1420"/>
<text class="m" x="1160" y="1408">v<tspan font-size="14" dy="4">i<tspan font-size="11" dy="3">abc</tspan></tspan></text>
<line class="ar" x1="1281" y1="1420" x2="1327" y2="1420"/>
<text class="m" x="1290" y="1412">θ<tspan font-size="14" dy="4">S</tspan></text>
<text class="cap" x="1158" y="1478">(f)</text>
</svg>
</body></html>
